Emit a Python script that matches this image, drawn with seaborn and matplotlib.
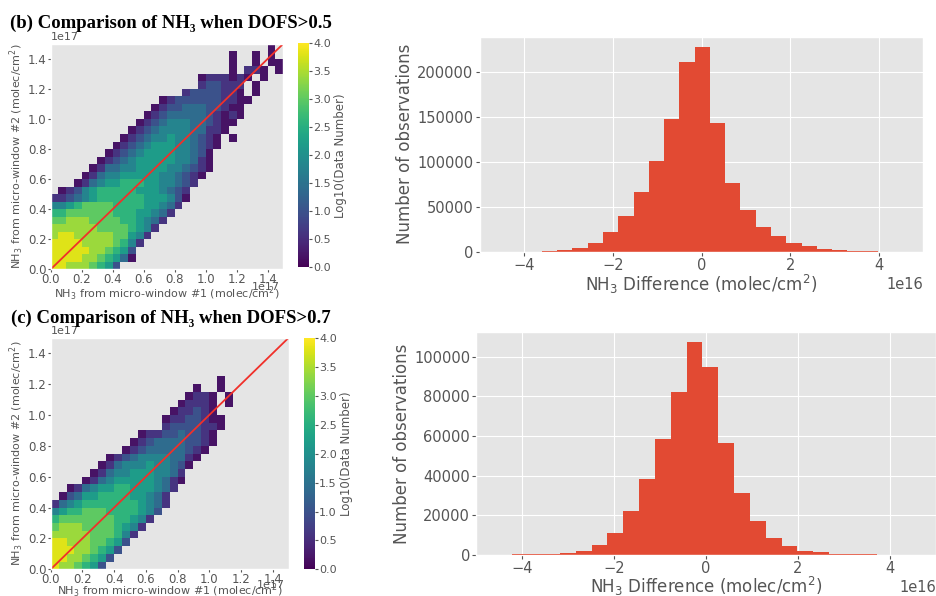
import numpy as np
import matplotlib
matplotlib.use('Agg')
import matplotlib.pyplot as plt
from matplotlib.ticker import MultipleLocator
import seaborn as sns

# 2d histogram of the two retrievals, 30x30 cells over 0..1.5e17, top row first
# '.' = empty cell, digit d -> log10(count) ~ 0.2 + 0.4*d
grid_dofs05 = [
    "............................0.",
    ".......................0..0.0.",
    ".......................0..0.00",
    ".......................0.110.0",
    "...................0111010.0..",
    "...................122111.0...",
    ".................12222110.0...",
    "..............012222221100....",
    ".............012233322100.....",
    "............0123333321010.....",
    "...........0123444332100......",
    "..........0123444433110.......",
    ".........0123445443210.0......",
    "........01234555443210........",
    ".......01234555544320.........",
    "......012345555544310.........",
    ".....0133445555443210.........",
    "....0134455555443210..........",
    "...0134556665544321...........",
    ".01245666665554321............",
    "112345666666555420............",
    "44567777666655431.............",
    "6677777766655431..............",
    "778887777665431...............",
    "88888877776541................",
    "8998888877541.................",
    "999988887641..................",
    "99999887652...................",
    "99998876530...................",
    "998887652.....................",
]

grid_dofs07 = [
    "..............................",
    "..............................",
    "..............................",
    "..............................",
    "..............................",
    ".....................0........",
    "..................0..0........",
    ".................0110.0.......",
    "................01110.0.......",
    "...............011210.........",
    "..............01122100........",
    "..............12222110........",
    "...........0112232210.........",
    "..........01233332210.........",
    ".........01233333210..........",
    ".......012344443310...........",
    "......013444544320............",
    ".....013445554431.............",
    "....0134555554310.............",
    "..01345566555431..............",
    ".02355666655431...............",
    "134566666665431...............",
    "45667776666542................",
    "6777777766541.................",
    "788877776541..................",
    "88888777641...................",
    "9988877652....................",
    "999887652.....................",
    "99887652......................",
    "9887652.......................",
]

# histograms of the differences (22 and 23 bins)
diff_dofs05_counts = [500, 1800, 3700, 10000, 21800, 40000, 67000, 101000, 148000, 211000, 228000,
                      143000, 76000, 46000, 27000, 17000, 9800, 5800, 3200, 1600, 900, 500]
diff_dofs05_range = (-3.6e16, 3.98e16)
diff_dofs07_counts = [300, 300, 400, 800, 2200, 5000, 10900, 22000, 38100, 58700, 82300, 107200,
                      94600, 56500, 31100, 17100, 8700, 4500, 2200, 1300, 500, 400, 300]
diff_dofs07_range = (-4.22e16, 3.71e16)

axis_max = 1.5e17
n_cells = 30


def grid_points(rows):
    step = axis_max / n_cells
    xs, ys, ws = [], [], []
    for i, row in enumerate(rows):
        r = n_cells - 1 - i
        for c, ch in enumerate(row.ljust(n_cells, '.')):
            if ch != '.':
                xs.append((c + 0.5) * step)
                ys.append((r + 0.5) * step)
                ws.append(0.2 + 0.4 * int(ch))
    return xs, ys, ws


def density_panel(fig, rect, cbar_rect, rows, xpad=-1, offset_y=-0.077):
    ax = fig.add_axes(rect)
    cax = fig.add_axes(cbar_rect)
    xs, ys, ws = grid_points(rows)
    sns.histplot(x=xs, y=ys, weights=ws, bins=n_cells,
                 binrange=((0, axis_max), (0, axis_max)),
                 cmap='viridis', vmin=0, vmax=4, cbar=True, cbar_ax=cax, ax=ax)
    ax.axline((0, 0), slope=1, color='#f0302a', lw=1.3)
    ax.set_xlim(0, axis_max)
    ax.set_ylim(0, axis_max)
    ax.xaxis.set_major_locator(MultipleLocator(0.2e17))
    ax.yaxis.set_major_locator(MultipleLocator(0.2e17))
    ax.grid(False)
    ax.set_xlabel('NH$_3$ from micro-window #1 (molec/cm$^2$)', fontsize=8, labelpad=xpad)
    ax.set_ylabel('NH$_3$ from micro-window #2 (molec/cm$^2$)', fontsize=8, labelpad=1)
    ax.tick_params(labelsize=8.5, length=2, pad=1)
    # x multiplier sits right under the tick labels, as in the original
    ax.xaxis.get_offset_text().set_visible(False)
    ax.text(0.985, offset_y, '1e17', transform=ax.transAxes, ha='right', va='center',
            fontsize=8, color='#555555')
    ax.yaxis.get_offset_text().set_fontsize(8)
    cax.grid(False)
    for sp in cax.spines.values():
        sp.set_visible(False)
    cax.set_ylabel('Log10(Data Number)', fontsize=8.5, labelpad=2)
    cax.tick_params(labelsize=8, length=2, pad=1)
    return ax


def diff_panel(fig, rect, counts, brange, xpad=0):
    ax = fig.add_axes(rect)
    n = len(counts)
    edges = np.linspace(brange[0], brange[1], n + 1)
    centers = (edges[:-1] + edges[1:]) / 2
    sns.histplot(x=centers, weights=counts, bins=n, binrange=brange,
                 color='#E24A33', alpha=1, linewidth=0, ax=ax)
    ax.set_xlim(-5e16, 5e16)
    ax.set_xlabel('NH$_3$ Difference (molec/cm$^2$)', fontsize=12, labelpad=xpad)
    ax.set_ylabel('Number of observations', fontsize=12, labelpad=2)
    ax.tick_params(labelsize=10.5, length=3, pad=1.5)
    ax.xaxis.get_offset_text().set_fontsize(10.5)
    return ax


plt.style.use('ggplot')
fig = plt.figure(figsize=(9.36, 5.96), dpi=100)

W, H = 936, 596


def box(x0, y0, x1, y1):
    return [x0 / W, 1 - y1 / H, (x1 - x0) / W, (y1 - y0) / H]


density_panel(fig, box(50.7, 43.8, 283.2, 269.3), box(298.3, 43.3, 309.3, 267.3), grid_dofs05)
diff_panel(fig, box(479.7, 36.7, 923.3, 251.7), diff_dofs05_counts, diff_dofs05_range)
density_panel(fig, box(50.7, 337.9, 288.5, 569.3), box(304, 338.3, 315, 569.3), grid_dofs07,
              xpad=-3, offset_y=-0.068)
diff_panel(fig, box(476.5, 331.7, 935.8, 555), diff_dofs07_counts, diff_dofs07_range, xpad=-1)

title_font = ['Liberation Serif', 'DejaVu Serif']
fig.text(10 / W, 1 - 28 / H, '(b) Comparison of NH\u2083 when DOFS>0.5', fontsize=13.5,
         fontweight='bold', family=title_font, color='black')
fig.text(11 / W, 1 - 323 / H, '(c) Comparison of NH\u2083 when DOFS>0.7', fontsize=13.5,
         fontweight='bold', family=title_font, color='black')

fig.savefig('out.png', dpi=100)
